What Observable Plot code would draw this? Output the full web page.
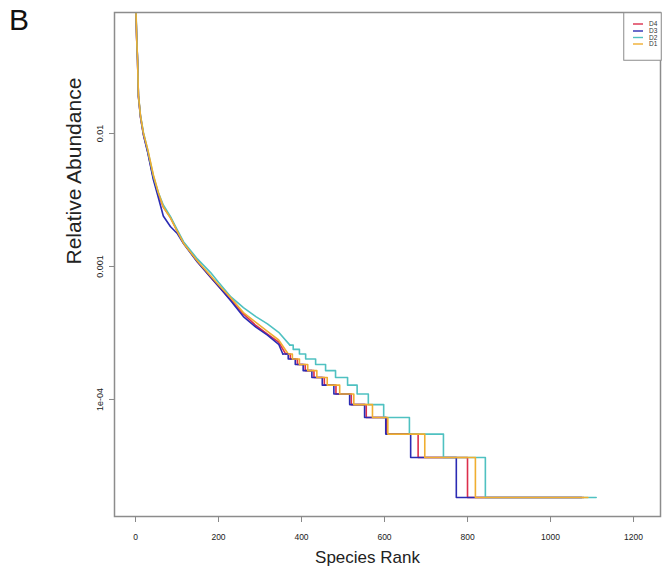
<!DOCTYPE html>
<html><head><meta charset="utf-8">
<script src="https://cdn.jsdelivr.net/npm/d3@7"></script>
<script src="https://cdn.jsdelivr.net/npm/@observablehq/plot@0.6"></script>
<style>
body{margin:0;background:#fff;}
#wrap{position:relative;width:662px;height:573px;font-family:"Liberation Sans",Arial,sans-serif;}
#panel{position:absolute;left:9px;top:5px;font-size:30px;color:#111;line-height:1;}
#legend{position:absolute;left:623px;top:12px;}
</style></head><body>
<div id="wrap"><div id="chart"></div><div id="panel">B</div><div id="legend"></div></div>
<script>
// ---- data ----
const samples = ["D4", "D3", "D2", "D1"];
const colors = ["#DC2F4C", "#2B2BB3", "#4FC1C1", "#F0AE30"];
const xTicks = [0, 200, 400, 600, 800, 1000, 1200];
const yTicks = [0.01, 0.001, 0.0001];
const yTickLabels = ["0.01", "0.001", "1e-04"];
// abundance of a taxon with 1, 2, 3, ... reads
const readLevels = [1.83e-5, 3.66e-5, 5.49e-5, 7.32e-5, 9.15e-5, 1.098e-4, 1.281e-4, 1.464e-4, 1.647e-4, 1.83e-4, 2.013e-4, 2.196e-4, 2.379e-4, 2.562e-4];
// smooth (high-abundance) part of each curve
const headRanks = [1, 3, 5, 7, 12, 19, 29, 43, 55, 67, 84, 100, 116, 149, 181, 200, 230, 260, 290, 318, 345];
const d4Head = [0.08, 0.05, 0.035, 0.0192, 0.0134, 0.0099, 0.0074, 0.0046, 0.0035, 0.0028, 0.00234, 0.00186, 0.0015, 0.00109, 0.00083, 0.00071, 0.00056, 0.00044, 0.00036, 0.00031, 0.00027];
const d3Head = [0.082, 0.05, 0.0352, 0.019, 0.0133, 0.0098, 0.0073, 0.0045, 0.0033, 0.0024, 0.002, 0.00178, 0.00148, 0.00108, 0.00083, 0.00071, 0.00055, 0.00042, 0.00035, 0.000305, 0.00026];
const d2Head = [0.09, 0.052, 0.036, 0.0196, 0.0137, 0.0102, 0.0076, 0.0048, 0.0036, 0.0029, 0.00238, 0.0019, 0.00153, 0.00114, 0.0009, 0.00076, 0.00059, 0.00049, 0.00042, 0.00037, 0.00032];
const d1Head = [0.085, 0.051, 0.0356, 0.0195, 0.0136, 0.0101, 0.0077, 0.0049, 0.0036, 0.0028, 0.00232, 0.00185, 0.00149, 0.0011, 0.00085, 0.00073, 0.00058, 0.00045, 0.00038, 0.000325, 0.00028];
// rank where the stepped (low-count) part begins
const headEnd = [362, 355, 372, 368];
// last rank holding 1, 2, 3, ... reads
const d4TailEnds = [1080, 800, 681, 605, 556, 520, 483, 455, 430, 409, 390, 373];
const d3TailEnds = [1075, 773, 663, 603, 552, 516, 478, 450, 425, 404, 385, 368];
const d2TailEnds = [1110, 843, 742, 660, 598, 561, 534, 511, 482, 458, 434, 410, 395, 380];
const d1TailEnds = [1090, 819, 697, 608, 571, 526, 492, 462, 437, 415, 395, 378];

// ---- build tables ----
const heads = [d4Head, d3Head, d2Head, d1Head];
const tails = [d4TailEnds, d3TailEnds, d2TailEnds, d1TailEnds];
const headRows = [], tailRows = [];
samples.forEach((s, i) => {
  const K = tails[i].length;
  headRanks.forEach((r, j) => headRows.push({sample: s, rank: r, abund: heads[i][j]}));
  headRows.push({sample: s, rank: headEnd[i], abund: readLevels[K - 1]});
  tailRows.push({sample: s, rank: headEnd[i], abund: readLevels[K - 1]});
  for (let n = K; n >= 2; n--) tailRows.push({sample: s, rank: tails[i][n - 1], abund: readLevels[n - 2]});
  tailRows.push({sample: s, rank: tails[i][0], abund: readLevels[0]});
});

const chart = Plot.plot({
  width: 662, height: 573,
  marginLeft: 114, marginRight: 2, marginTop: 12, marginBottom: 57,
  style: {fontFamily: "'Liberation Sans', Arial, sans-serif", background: "#fff"},
  x: {domain: [-50.6, 1265]},
  y: {type: "log", domain: [1.318e-5, 0.0813]},
  color: {domain: samples, range: colors},
  marks: [
    Plot.line(headRows, {x: "rank", y: "abund", z: "sample", stroke: "sample", strokeWidth: 1.6, clip: true}),
    Plot.line(tailRows, {x: "rank", y: "abund", z: "sample", stroke: "sample", strokeWidth: 1.6, curve: "step-after", clip: true}),
    Plot.frame({stroke: "#8c8c8c", strokeWidth: 1.5}),
    Plot.axisX({ticks: xTicks, tickSize: 6, tickPadding: 11, fontSize: 8.5, stroke: "#888", fill: "#222", label: null, tickFormat: d => String(d)}),
    Plot.axisY({ticks: yTicks, tickSize: 5, tickPadding: 7, tickRotate: -90, fontSize: 9, stroke: "#888", fill: "#222", label: null,
      tickFormat: d => yTickLabels[yTicks.indexOf(d)]}),
    Plot.text(["Species Rank"], {frameAnchor: "bottom", dy: 41, dx: -20, lineAnchor: "middle", fontSize: 17, fill: "#222"}),
    Plot.text(["Relative Abundance"], {frameAnchor: "left", dx: -40, rotate: -90, lineAnchor: "middle", fontSize: 21, fill: "#222"})
  ]
});
document.getElementById("chart").appendChild(chart);

// ---- legend ----
const lg = d3.select("#legend").append("svg").attr("width", 39).attr("height", 49);
lg.append("rect").attr("x", 0.75).attr("y", 0.75).attr("width", 37.5).attr("height", 47.5)
  .attr("fill", "#fff").attr("stroke", "#8c8c8c").attr("stroke-width", 1);
const legY = [12, 19, 25.5, 32];
samples.forEach((s, i) => {
  lg.append("line").attr("x1", 10).attr("x2", 20).attr("y1", legY[i]).attr("y2", legY[i])
    .attr("stroke", colors[i]).attr("stroke-width", 1.4);
  lg.append("text").attr("x", 26).attr("y", legY[i] + 2.2).attr("font-size", 6.5)
    .attr("font-family", "'Liberation Sans', Arial, sans-serif").attr("fill", "#333").text(s);
});
</script>
</body></html>
